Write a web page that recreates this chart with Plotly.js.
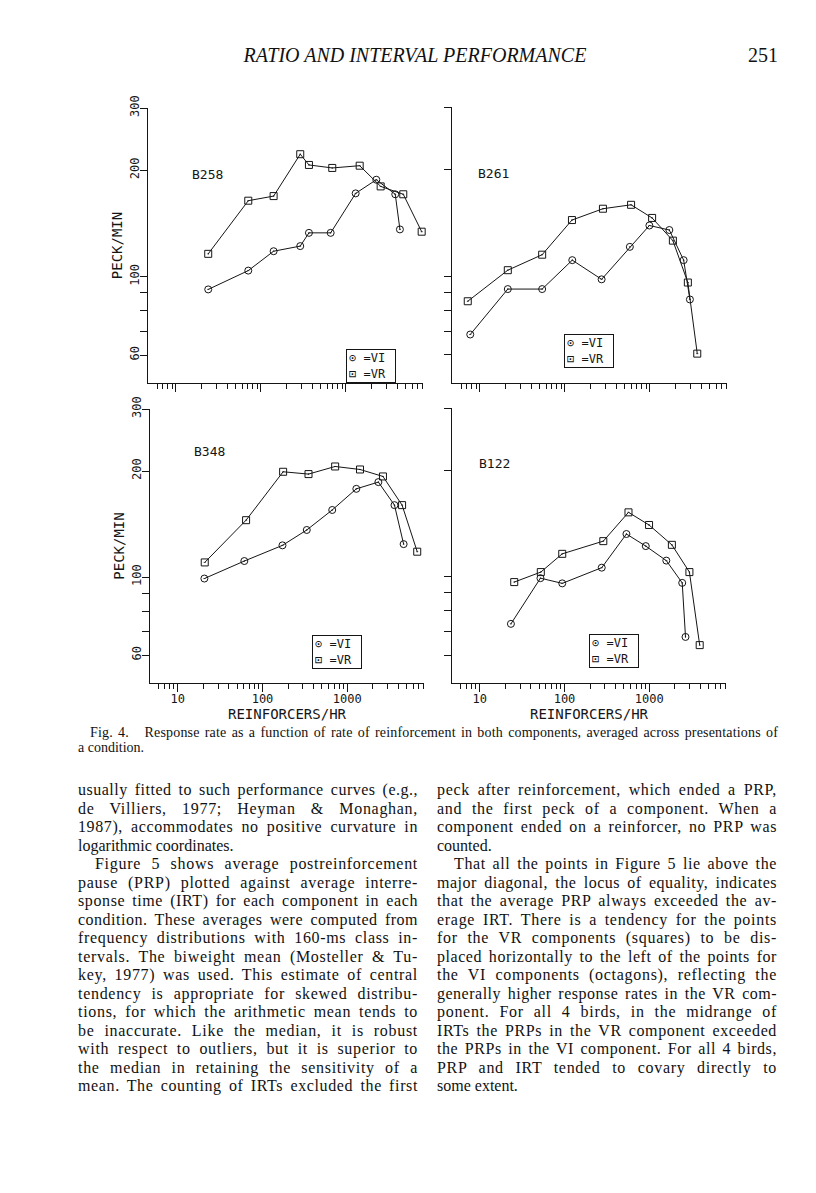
<!DOCTYPE html>
<html>
<head>
<meta charset="utf-8">
<script src="https://cdn.plot.ly/plotly-3.0.1.min.js"></script>
<style>
  body { margin: 0; background: #fff; }
  #page { position: relative; width: 816px; height: 1193px; background: #fff; overflow: hidden; }
  #chart { position: absolute; left: 0; top: 0; width: 816px; height: 1193px; }
  .serif { font-family: "Liberation Serif", "Times New Roman", serif; color: #111; position: absolute; }
  .col { font-size: 16px; line-height: 18.5px; width: 340px; }
  .col div, .cap div { text-align: justify; text-align-last: justify; white-space: nowrap; }
  .col div.end, .cap div.end { text-align-last: left; }
  .col div.ind { text-indent: 17px; }
</style>
</head>
<body>
<div id="page">
  <div id="chart"></div>
  <div class="serif" style="left:0;width:816px;top:44px;text-align:center;font-size:20px;font-style:italic;padding-left:14px;box-sizing:border-box;">RATIO AND INTERVAL PERFORMANCE</div>
  <div class="serif" style="left:730px;width:48px;top:44px;text-align:right;font-size:20px;">251</div>
  <div id="cap" class="serif cap" style="left:78px;width:700px;top:725px;font-size:14px;line-height:15px;"></div>
  <div id="colL" class="serif col" style="left:78px;top:781px;"></div>
  <div id="colR" class="serif col" style="left:437px;top:781px;"></div>
</div>
<script>
// B258
const b258ViX = [24, 71, 141, 290, 367, 661, 1300, 2275, 3800, 4310];
const b258ViY = [92, 104, 118, 122, 133, 133, 172, 188, 171, 136];
const b258VrX = [24, 71, 141, 290, 367, 690, 1450, 2560, 4720, 7770];
const b258VrY = [116, 164, 169, 222, 207, 203, 206, 180, 171, 134];

// B261
const b261ViX = [7.7, 21.3, 54, 122, 270, 580, 985, 1690, 2490, 2950];
const b261ViY = [68.5, 92, 92, 111, 98, 121, 139, 135, 111, 86];
const b261VrX = [7.2, 21.3, 54, 121, 280, 600, 1060, 1860, 2790, 3600];
const b261VrY = [85, 104, 115, 144, 155, 159, 146, 126, 96, 60.5];

// B348
const b348ViX = [20.6, 61, 172, 333, 665, 1280, 2330, 3610, 4630];
const b348ViY = [99, 111, 123, 136, 155, 178, 186, 160, 124];
const b348VrX = [20.8, 64, 175, 349, 720, 1415, 2640, 4440, 6700];
const b348VrY = [110, 145, 199, 196, 206, 202, 193, 160, 118];

// B122
const b122ViX = [23.3, 52, 94, 275, 538, 910, 1590, 2450, 2680];
const b122ViY = [73.5, 99, 95.7, 106, 132, 122, 111, 96, 67.5];
const b122VrX = [25.5, 52.5, 94, 287, 569, 995, 1850, 2980, 3940];
const b122VrY = [96.5, 103, 116, 126, 152, 140, 123, 103, 64];

const birds = ["B258", "B261", "B348", "B122"];
const yTicks = [60, 100, 200, 300];
const yMinor = [70, 80, 90];
const xTicks = [10, 100, 1000];
const legendText = "\u2299 =VI<br>\u22A1 =VR";
const xTitle = "REINFORCERS/HR";
const yTitle = "PECK/MIN";

const captionLines = [
  "Fig. 4.\u00a0\u00a0 Response rate as a function of rate of reinforcement in both components, averaged across presentations of",
  "a condition.",
];
const leftLines = [
  "usually fitted to such performance curves (e.g.,",
  "de Villiers, 1977; Heyman & Monaghan,",
  "1987), accommodates no positive curvature in",
  "logarithmic coordinates.",
  "Figure 5 shows average postreinforcement",
  "pause (PRP) plotted against average interre-",
  "sponse time (IRT) for each component in each",
  "condition. These averages were computed from",
  "frequency distributions with 160-ms class in-",
  "tervals. The biweight mean (Mosteller & Tu-",
  "key, 1977) was used. This estimate of central",
  "tendency is appropriate for skewed distribu-",
  "tions, for which the arithmetic mean tends to",
  "be inaccurate. Like the median, it is robust",
  "with respect to outliers, but it is superior to",
  "the median in retaining the sensitivity of a",
  "mean. The counting of IRTs excluded the first",
];
const rightLines = [
  "peck after reinforcement, which ended a PRP,",
  "and the first peck of a component. When a",
  "component ended on a reinforcer, no PRP was",
  "counted.",
  "That all the points in Figure 5 lie above the",
  "major diagonal, the locus of equality, indicates",
  "that the average PRP always exceeded the av-",
  "erage IRT. There is a tendency for the points",
  "for the VR components (squares) to be dis-",
  "placed horizontally to the left of the points for",
  "the VI components (octagons), reflecting the",
  "generally higher response rates in the VR com-",
  "ponent. For all 4 birds, in the midrange of",
  "IRTs the PRPs in the VR component exceeded",
  "the PRPs in the VI component. For all 4 birds,",
  "PRP and IRT tended to covary directly to",
  "some extent.",
];

// one div per printed line; justified lines get a little letter spacing
// so the wider book face is imitated instead of big word gaps
function fillColumn(id, lines, ends, indents, width, indentPx, share) {
  const col = document.getElementById(id);
  lines.forEach((t, i) => {
    const d = document.createElement("div");
    const s = document.createElement("span");
    s.textContent = t;
    d.appendChild(s);
    if (ends.includes(i)) d.className = "end";
    if (indents.includes(i)) d.className += " ind";
    col.appendChild(d);
    if (ends.includes(i)) return;
    d.style.textAlignLast = "left";
    const w = s.getBoundingClientRect().width + (indents.includes(i) ? indentPx : 0);
    d.style.textAlignLast = "";
    const spare = width - w;
    const ls = Math.max(0, Math.min(0.7, (spare * share) / t.length));
    d.style.letterSpacing = ls.toFixed(2) + "px";
  });
}
fillColumn("colL", leftLines, [3], [4], 340, 17, 0.6);
fillColumn("colR", rightLines, [3, 16], [4], 340, 17, 0.6);
fillColumn("cap", captionLines, [1], [], 688, 0, 0.4);
document.querySelector("#cap div").style.paddingLeft = "12px";

// page pixels -> paper fractions
const W = 816, H = 1193;
const px = (x) => x / W;
const py = (y) => 1 - y / H;

// panel boxes in page pixels: [left, right, top, bottom]
const boxes = [
  [148, 423, 108, 383],
  [452, 727, 107, 383],
  [150, 424, 409, 683],
  [452, 726, 408, 683],
];
const labelPos = [[190, 165], [494, 164], [192, 451], [495, 463]];
const legendPos = [[346, 349], [564, 334], [312, 635], [589, 634]];

const minorX = [];
[1, 10, 100, 1000].forEach((d) => {
  for (let m = 2; m <= 9; m++) {
    const v = m * d;
    if (v > 5.5 && v < 8500) minorX.push(v);
  }
});

const ink = "#151515";
const mono = "DejaVu Sans Mono, monospace";

const series = [
  [b258ViX, b258ViY, b258VrX, b258VrY],
  [b261ViX, b261ViY, b261VrX, b261VrY],
  [b348ViX, b348ViY, b348VrX, b348VrY],
  [b122ViX, b122ViY, b122VrX, b122VrY],
];

const data = [];
series.forEach((s, i) => {
  const n = i === 0 ? "" : String(i + 1);
  const common = {
    type: "scatter",
    mode: "lines+markers",
    xaxis: "x" + n,
    yaxis: "y" + n,
    showlegend: false,
    cliponaxis: false,
    line: { color: ink, width: 1 },
  };
  data.push({ ...common, x: s[0], y: s[1], name: "VI",
    marker: { symbol: "circle-open-dot", size: 7, color: ink, line: { width: 1, color: ink } } });
  data.push({ ...common, x: s[2], y: s[3], name: "VR",
    marker: { symbol: "square-open-dot", size: 7, color: ink, line: { width: 1, color: ink } } });
});

const layout = {
  width: W,
  height: H,
  margin: { l: 0, r: 0, t: 0, b: 0 },
  paper_bgcolor: "rgba(0,0,0,0)",
  plot_bgcolor: "rgba(0,0,0,0)",
  showlegend: false,
  annotations: [],
  font: { family: mono, color: ink },
};

boxes.forEach((b, i) => {
  const n = i === 0 ? "" : String(i + 1);
  const isBottom = i >= 2;
  const isLeft = i % 2 === 0;
  layout["xaxis" + n] = {
    type: "log",
    domain: [px(b[0]), px(b[1])],
    range: [0.672, 3.906],
    anchor: "y" + n,
    showline: true, linecolor: ink, linewidth: 1,
    showgrid: false, zeroline: false,
    ticks: "outside", ticklen: 8, tickwidth: 1, tickcolor: ink,
    tickmode: "array", tickvals: xTicks, ticktext: xTicks.map(String),
    showticklabels: isBottom,
    ticklabelstandoff: -3,
    tickfont: { family: mono, size: 12, color: ink },
    minor: { tickvals: minorX, ticks: "outside", ticklen: 5, tickwidth: 1, tickcolor: ink, showgrid: false },
    title: isBottom ? { text: xTitle, font: { family: mono, size: 14, color: ink }, standoff: 0 } : { text: "" },
    fixedrange: true,
  };
  layout["yaxis" + n] = {
    type: "log",
    domain: [py(b[3]), py(b[2])],
    range: [Math.log10(50), Math.log10(300)],
    anchor: "x" + n,
    showline: true, linecolor: ink, linewidth: 1.5,
    showgrid: false, zeroline: false,
    ticks: "outside", ticklen: 7, tickwidth: 1, tickcolor: ink,
    tickmode: "array", tickvals: yTicks, ticktext: yTicks.map(String),
    showticklabels: isLeft,
    ticklabelstandoff: -4,
    tickangle: -90,
    tickfont: { family: mono, size: 12, color: ink },
    minor: { tickvals: yMinor, ticks: "outside", ticklen: 7, tickwidth: 1, tickcolor: ink, showgrid: false },
    title: isLeft ? { text: yTitle, font: { family: mono, size: 14, color: ink }, standoff: 2 } : { text: "" },
    fixedrange: true,
  };
  layout.annotations.push({
    xref: "paper", yref: "paper",
    x: px(labelPos[i][0]), y: py(labelPos[i][1]),
    text: birds[i], showarrow: false,
    font: { family: mono, size: 13, color: ink },
  });
  layout.annotations.push({
    xref: "paper", yref: "paper",
    x: px(legendPos[i][0]), y: py(legendPos[i][1]),
    xanchor: "left", yanchor: "top", align: "left",
    text: legendText, showarrow: false,
    width: 44, height: 28,
    bordercolor: ink, borderwidth: 1, borderpad: 2, bgcolor: "#fff",
    font: { family: mono, size: 12, color: ink },
  });
});

Plotly.newPlot("chart", data, layout, { staticPlot: true, displayModeBar: false });
</script>
</body>
</html>
